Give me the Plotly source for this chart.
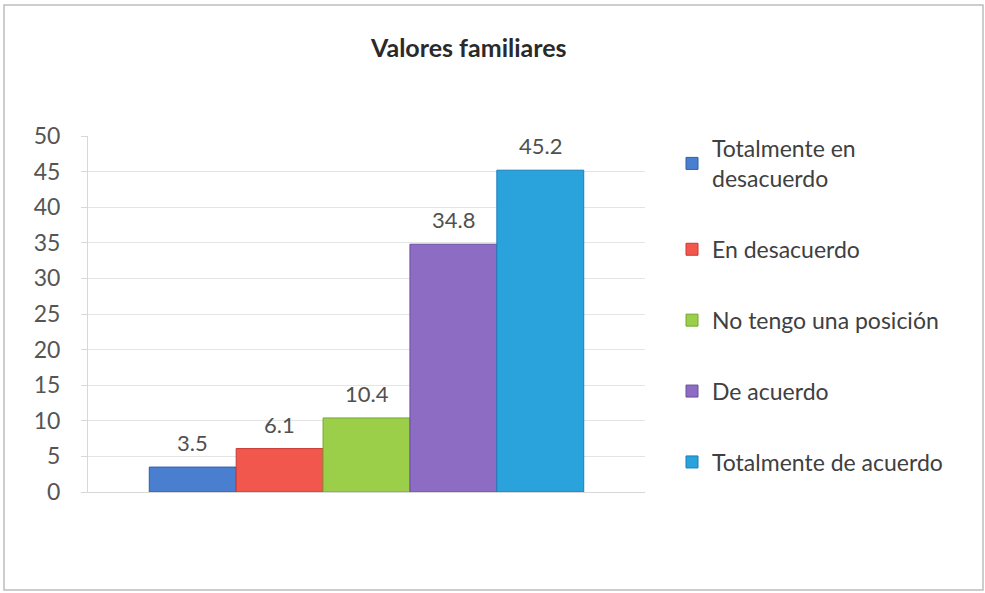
import plotly.graph_objects as go

# Survey results: "Valores familiares"
categories = ["Valores familiares"]
series_names = [
    "Totalmente en<br>desacuerdo",
    "En desacuerdo",
    "No tengo una posición",
    "De acuerdo",
    "Totalmente de acuerdo",
]
series_values = [3.5, 6.1, 10.4, 34.8, 45.2]
series_colors = ["#4a7fd0", "#f2574e", "#9bcf4a", "#8d6cc4", "#2aa3dd"]
series_edges = ["#2f5fa8", "#c93a33", "#74a830", "#6a4ea0", "#1680b8"]
y_ticks = [0, 5, 10, 15, 20, 25, 30, 35, 40, 45, 50]

W, H = 985, 593
L, R, T, B = 88, 340, 136, 101
PW, PH = W - L - R, H - T - B
BARGAP = 0.22
FONT = "Lato"

fig = go.Figure()
for i, (name, val) in enumerate(zip(series_names, series_values)):
    fig.add_trace(go.Bar(
        x=categories,
        y=[val],
        name=name,
        legendgroup=f"g{i}",
        marker=dict(color=series_colors[i],
                    line=dict(color=series_edges[i], width=1)),
    ))

# value labels centred over each bar of the group
n = len(series_values)
bar_w = (1 - BARGAP) / n
value_labels = []
for i, val in enumerate(series_values):
    value_labels.append(dict(
        x=-(1 - BARGAP) / 2 + bar_w * (i + 0.5), y=val,
        xref="x", yref="y",
        text=f"{val:.1f}", showarrow=False,
        xanchor="center", yanchor="bottom", yshift=9,
        font=dict(family=FONT, size=22, color="#505050"),
    ))

fig.update_layout(
    width=W, height=H,
    margin=dict(l=L, r=R, t=T, b=B),
    paper_bgcolor="white",
    plot_bgcolor="white",
    barmode="group",
    bargap=BARGAP,
    bargroupgap=0,
    showlegend=True,
    legend=dict(
        x=(672 - L) / PW, xanchor="left", xref="paper",
        y=1 + (T - 127) / PH, yanchor="top",
        font=dict(family=FONT, size=23, color="#404040"),
        tracegroupgap=38,
        itemwidth=30,
        maxheight=1.0,
        bgcolor="rgba(0,0,0,0)",
    ),
    xaxis=dict(showticklabels=False, showgrid=False,
               showline=True, linecolor="#d8d8d8", linewidth=1),
    yaxis=dict(range=[0, 50], tickvals=y_ticks,
               showgrid=True, gridcolor="#e4e4e4", gridwidth=1,
               showline=True, linecolor="#d8d8d8", linewidth=1,
               ticks="outside", ticklen=6, tickcolor="#d8d8d8",
               ticklabelstandoff=16,
               tickfont=dict(family=FONT, size=23, color="#555555"),
               zeroline=False),
    annotations=[dict(
        text="<b>Valores familiares</b>",
        xref="paper", yref="paper",
        x=(468 - L) / PW, y=1 + (T - 47) / PH,
        xanchor="center", yanchor="middle",
        showarrow=False,
        font=dict(family=FONT, size=25, color="#2a2a2a"),
    )] + value_labels,
    shapes=[dict(
        type="rect", xref="paper", yref="paper",
        x0=(4 - L) / PW, x1=(983 - L) / PW,
        y0=-(590 - T - PH) / PH, y1=1 + (T - 5) / PH,
        line=dict(color="#bdbdbd", width=1.5),
        fillcolor="rgba(0,0,0,0)",
        layer="below",
    )],
)

fig.write_html("out.html")
